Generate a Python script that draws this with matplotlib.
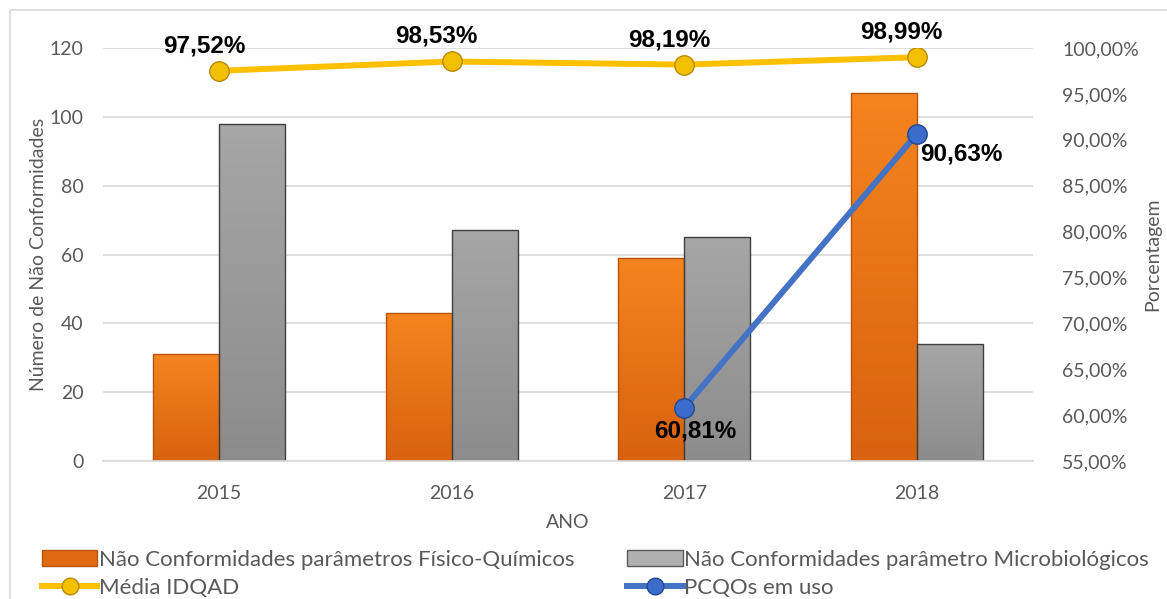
import numpy as np
import matplotlib.pyplot as plt
from matplotlib.colors import LinearSegmentedColormap
from matplotlib.lines import Line2D
from matplotlib.patches import Patch, Rectangle
from matplotlib.ticker import FuncFormatter, MultipleLocator

# Dados
anos = ["2015", "2016", "2017", "2018"]
nc_fisico_quimicos = [31, 43, 59, 107]
nc_microbiologicos = [98, 67, 65, 34]
media_idqad = [97.52, 98.53, 98.19, 98.99]
pcqos_anos = ["2017", "2018"]
pcqos_em_uso = [60.81, 90.63]


def pct(v, casas=2):
    return f"{v:.{casas}f}".replace(".", ",") + "%"


def gradiente(ax, barras, c_base, c_topo):
    # preenche cada barra com um degradê vertical
    cmap = LinearSegmentedColormap.from_list("g", [c_base, c_topo])
    grad = np.linspace(0, 1, 64).reshape(-1, 1)
    for b in barras:
        x0, y0 = b.get_x(), b.get_y()
        im = ax.imshow(grad, extent=[x0, x0 + b.get_width(), y0, y0 + b.get_height()],
                       origin="lower", aspect="auto", cmap=cmap, zorder=2.1)
        im.set_clip_path(b)
        b.set_facecolor("none")
        b.set_zorder(2.2)


plt.rcParams["font.family"] = ["Lato", "DejaVu Sans"]

fig = plt.figure(figsize=(11.67, 5.99), dpi=100)
ax = fig.add_axes([103/1167, 1 - 461/599, 930/1167, 413/599])

x = np.arange(len(anos))
larg = 0.284
b1 = ax.bar(x - larg/2, nc_fisico_quimicos, larg, color="#F07B1C",
            edgecolor="#B9540E", linewidth=1, zorder=2)
b2 = ax.bar(x + larg/2, nc_microbiologicos, larg, color="#9C9C9C",
            edgecolor="#3F3F3F", linewidth=1, zorder=2)
gradiente(ax, b1, "#D8620F", "#F5841E")
gradiente(ax, b2, "#8C8C8C", "#A6A6A6")

ax.set_xlim(-0.5, len(anos) - 0.5)
ax.set_ylim(0, 120)
ax.yaxis.set_major_locator(MultipleLocator(20))
ax.set_xticks(x, anos)
ax.grid(axis="y", color="#D9D9D9", linewidth=1.2, zorder=0)
ax.set_axisbelow(True)
for s in ["top", "left", "right"]:
    ax.spines[s].set_visible(False)
ax.spines["bottom"].set_color("#D9D9D9")
ax.spines["bottom"].set_linewidth(1.2)
ax.tick_params(length=0, labelsize=14, colors="#595959")
ax.tick_params(axis="y", pad=14)
ax.tick_params(axis="x", pad=17)
ax.set_ylabel("Número de Não Conformidades", fontsize=14, color="#595959", labelpad=2)
ax.set_xlabel("ANO", fontsize=14, color="#595959", labelpad=9)

# Eixo secundário
ax2 = ax.twinx()
ax2.set_ylim(55, 100)
ax2.yaxis.set_major_locator(MultipleLocator(5))
ax2.yaxis.set_major_formatter(FuncFormatter(lambda v, p: pct(v)))
for s in ["top", "left", "right", "bottom"]:
    ax2.spines[s].set_visible(False)
ax2.tick_params(length=0, labelsize=14, colors="#595959", pad=21)
ax2.set_ylabel("Porcentagem", fontsize=14, color="#595959", labelpad=4)

ax2.plot(x, media_idqad, color="#FFC000", linewidth=4.3, marker="o",
         markersize=14, markerfacecolor="#F2C000", markeredgecolor="#B88A00",
         markeredgewidth=1, zorder=3)
px = [anos.index(a) for a in pcqos_anos]
ax2.plot(px, pcqos_em_uso, color="#4472C4", linewidth=4.3, marker="o",
         markersize=14, markerfacecolor="#3C6CCB", markeredgecolor="#23478F",
         markeredgewidth=1, zorder=3)

for xi, v in zip(x, media_idqad):
    ax2.annotate(pct(v), (xi, v), xytext=(-11, 18), textcoords="offset points",
                 ha="center", va="center", fontsize=17.5, fontweight="bold",
                 family="Liberation Sans", annotation_clip=False)
ax2.annotate(pct(pcqos_em_uso[0]), (px[0], pcqos_em_uso[0]), xytext=(8, -16.5),
             textcoords="offset points", ha="center", va="center", fontsize=17.5,
             fontweight="bold", family="Liberation Sans")
ax2.annotate(pct(pcqos_em_uso[1]), (px[1], pcqos_em_uso[1]), xytext=(32, -14.5),
             textcoords="offset points", ha="center", va="center", fontsize=17.5,
             fontweight="bold", family="Liberation Sans")

# Legenda
h_fq = Patch(facecolor="#E06A14", edgecolor="#B9540E")
h_mb = Patch(facecolor="#B0B0B0", edgecolor="#5A5A5A")
h_md = Line2D([], [], color="#FFC000", linewidth=4.3, marker="o", markersize=12,
              markerfacecolor="#F2C000", markeredgecolor="#B88A00")
h_pc = Line2D([], [], color="#4472C4", linewidth=4.3, marker="o", markersize=12,
              markerfacecolor="#3C6CCB", markeredgecolor="#23478F")
fig.legend([h_fq, h_md, h_mb, h_pc],
           ["Não Conformidades parâmetros Físico-Químicos", "Média IDQAD",
            "Não Conformidades parâmetro Microbiológicos", "PCQOs em uso"],
           loc="upper left", bbox_to_anchor=(33/1167, 1 - 541/599), ncol=2,
           frameon=False, fontsize=16, handlelength=2.5, handletextpad=0.05,
           columnspacing=2.4, labelspacing=0.35, borderaxespad=0,
           labelcolor="#595959")

fig.add_artist(Rectangle((10/1167, -0.05), 1.2, 1.05 - 10/599,
                         transform=fig.transFigure, fill=False,
                         edgecolor="#D9D9D9", linewidth=1.2))

fig.savefig("out.png", dpi=100)
